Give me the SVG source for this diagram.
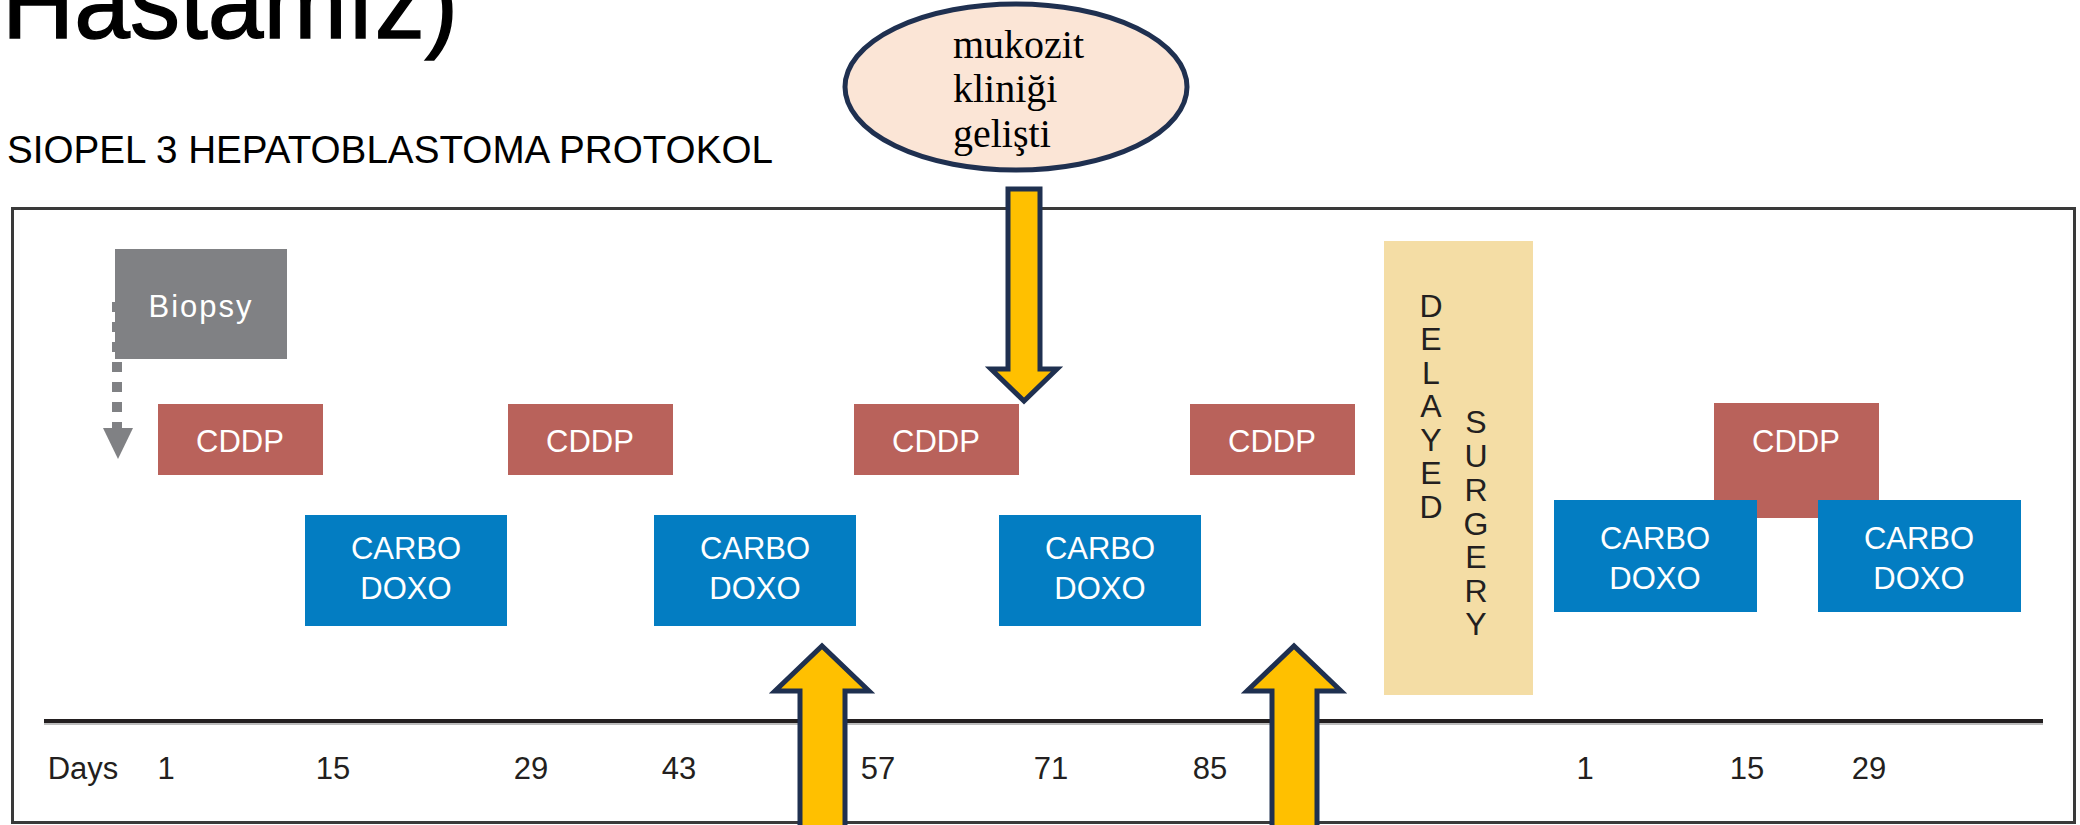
<svg xmlns="http://www.w3.org/2000/svg" width="2080" height="825" viewBox="0 0 2080 825">
<style>
.lbl{font-family:"Liberation Sans",Arial,sans-serif;font-size:31px;fill:#ffffff;text-anchor:middle}
.day{font-family:"Liberation Sans",Arial,sans-serif;font-size:31px;fill:#231F20;text-anchor:middle}
.vt{font-family:"Liberation Sans",Arial,sans-serif;font-size:32px;fill:#231F20;text-anchor:middle}
.cddp{fill:#B9625B}
.carbo{fill:#037DC2}
.yarrow{fill:#FFC000;stroke:#1F3050;stroke-width:5;stroke-linejoin:miter}
.serif{font-family:"Liberation Serif","Times New Roman",serif;font-size:40px;fill:#000000}
</style>
<rect width="2080" height="825" fill="#ffffff"/>
<g id="title">
<text x="2" y="38" font-family="Liberation Sans,Arial,sans-serif" font-size="104" fill="#000" stroke="#000" stroke-width="1.5" textLength="456" lengthAdjust="spacingAndGlyphs">Hastamız)</text>
</g>
<g id="subtitle">
<text x="7" y="163" font-family="Liberation Sans,Arial,sans-serif" font-size="38" fill="#000" textLength="766" lengthAdjust="spacingAndGlyphs">SIOPEL 3 HEPATOBLASTOMA PROTOKOL</text>
</g>
<g id="frame">
<rect x="12.5" y="208.5" width="2062" height="614" fill="none" stroke="#3a3a3a" stroke-width="3"/>
</g>
<g id="timeline">
<line x1="44" y1="723" x2="2043" y2="723" stroke="#bdbdbd" stroke-width="4"/>
<line x1="44" y1="721" x2="2043" y2="721" stroke="#231F20" stroke-width="4"/>
<text class="day" x="83" y="779">Days</text>
<text class="day" x="166" y="779">1</text>
<text class="day" x="333" y="779">15</text>
<text class="day" x="531" y="779">29</text>
<text class="day" x="679" y="779">43</text>
<text class="day" x="878" y="779">57</text>
<text class="day" x="1051" y="779">71</text>
<text class="day" x="1210" y="779">85</text>
<text class="day" x="1585" y="779">1</text>
<text class="day" x="1747" y="779">15</text>
<text class="day" x="1869" y="779">29</text>
</g>
<g id="connectors">
<line x1="117" y1="302" x2="117" y2="428" stroke="#808184" stroke-width="10" stroke-dasharray="10 10"/>
<polygon points="103,428 133,428 118,459" fill="#808184"/>
</g>
<g id="biopsy">
<rect x="115" y="249" width="172" height="110" fill="#808184"/>
<text class="lbl" x="201" y="317" letter-spacing="2">Biopsy</text>
</g>
<g id="cddp1"><rect class="cddp" x="158" y="404" width="165" height="71"/><text class="lbl" x="240" y="452">CDDP</text></g>
<g id="cddp2"><rect class="cddp" x="508" y="404" width="165" height="71"/><text class="lbl" x="590" y="452">CDDP</text></g>
<g id="cddp3"><rect class="cddp" x="854" y="404" width="165" height="71"/><text class="lbl" x="936" y="452">CDDP</text></g>
<g id="cddp4"><rect class="cddp" x="1190" y="404" width="165" height="71"/><text class="lbl" x="1272" y="452">CDDP</text></g>
<g id="cddp5"><rect class="cddp" x="1714" y="403" width="165" height="115"/><text class="lbl" x="1796" y="452">CDDP</text></g>
<g id="carbo1"><rect class="carbo" x="305" y="515" width="202" height="111"/><text class="lbl" x="406" y="559">CARBO</text><text class="lbl" x="406" y="599">DOXO</text></g>
<g id="carbo2"><rect class="carbo" x="654" y="515" width="202" height="111"/><text class="lbl" x="755" y="559">CARBO</text><text class="lbl" x="755" y="599">DOXO</text></g>
<g id="carbo3"><rect class="carbo" x="999" y="515" width="202" height="111"/><text class="lbl" x="1100" y="559">CARBO</text><text class="lbl" x="1100" y="599">DOXO</text></g>
<g id="carbo4"><rect class="carbo" x="1554" y="500" width="203" height="112"/><text class="lbl" x="1655" y="549">CARBO</text><text class="lbl" x="1655" y="589">DOXO</text></g>
<g id="carbo5"><rect class="carbo" x="1818" y="500" width="203" height="112"/><text class="lbl" x="1919" y="549">CARBO</text><text class="lbl" x="1919" y="589">DOXO</text></g>
<g id="delayed-surgery">
<rect x="1384" y="241" width="149" height="454" fill="#F4DDA5"/>
<text class="vt" x="1431" y="317">D</text>
<text class="vt" x="1431" y="350">E</text>
<text class="vt" x="1431" y="384">L</text>
<text class="vt" x="1431" y="417">A</text>
<text class="vt" x="1431" y="451">Y</text>
<text class="vt" x="1431" y="484">E</text>
<text class="vt" x="1431" y="518">D</text>
<text class="vt" x="1476" y="433">S</text>
<text class="vt" x="1476" y="467">U</text>
<text class="vt" x="1476" y="501">R</text>
<text class="vt" x="1476" y="535">G</text>
<text class="vt" x="1476" y="568">E</text>
<text class="vt" x="1476" y="602">R</text>
<text class="vt" x="1476" y="635">Y</text>
</g>
<g id="note">
<ellipse cx="1016" cy="87" rx="171" ry="83" fill="#FBE5D6" stroke="#1F3050" stroke-width="5"/>
<text class="serif" x="953" y="58">mukozit</text>
<text class="serif" x="953" y="102">kliniği</text>
<text class="serif" x="953" y="147">gelişti</text>
</g>
<g id="block-arrows">
<path class="yarrow" d="M1008,189 H1040 V369 H1057 L1024,401 L991,369 H1008 Z"/>
<path class="yarrow" d="M800,830 V691 H775 L822,646 L869,691 H845 V830 Z"/>
<path class="yarrow" d="M1272,830 V691 H1247 L1294,646 L1341,691 H1317 V830 Z"/>
</g>
</svg>
